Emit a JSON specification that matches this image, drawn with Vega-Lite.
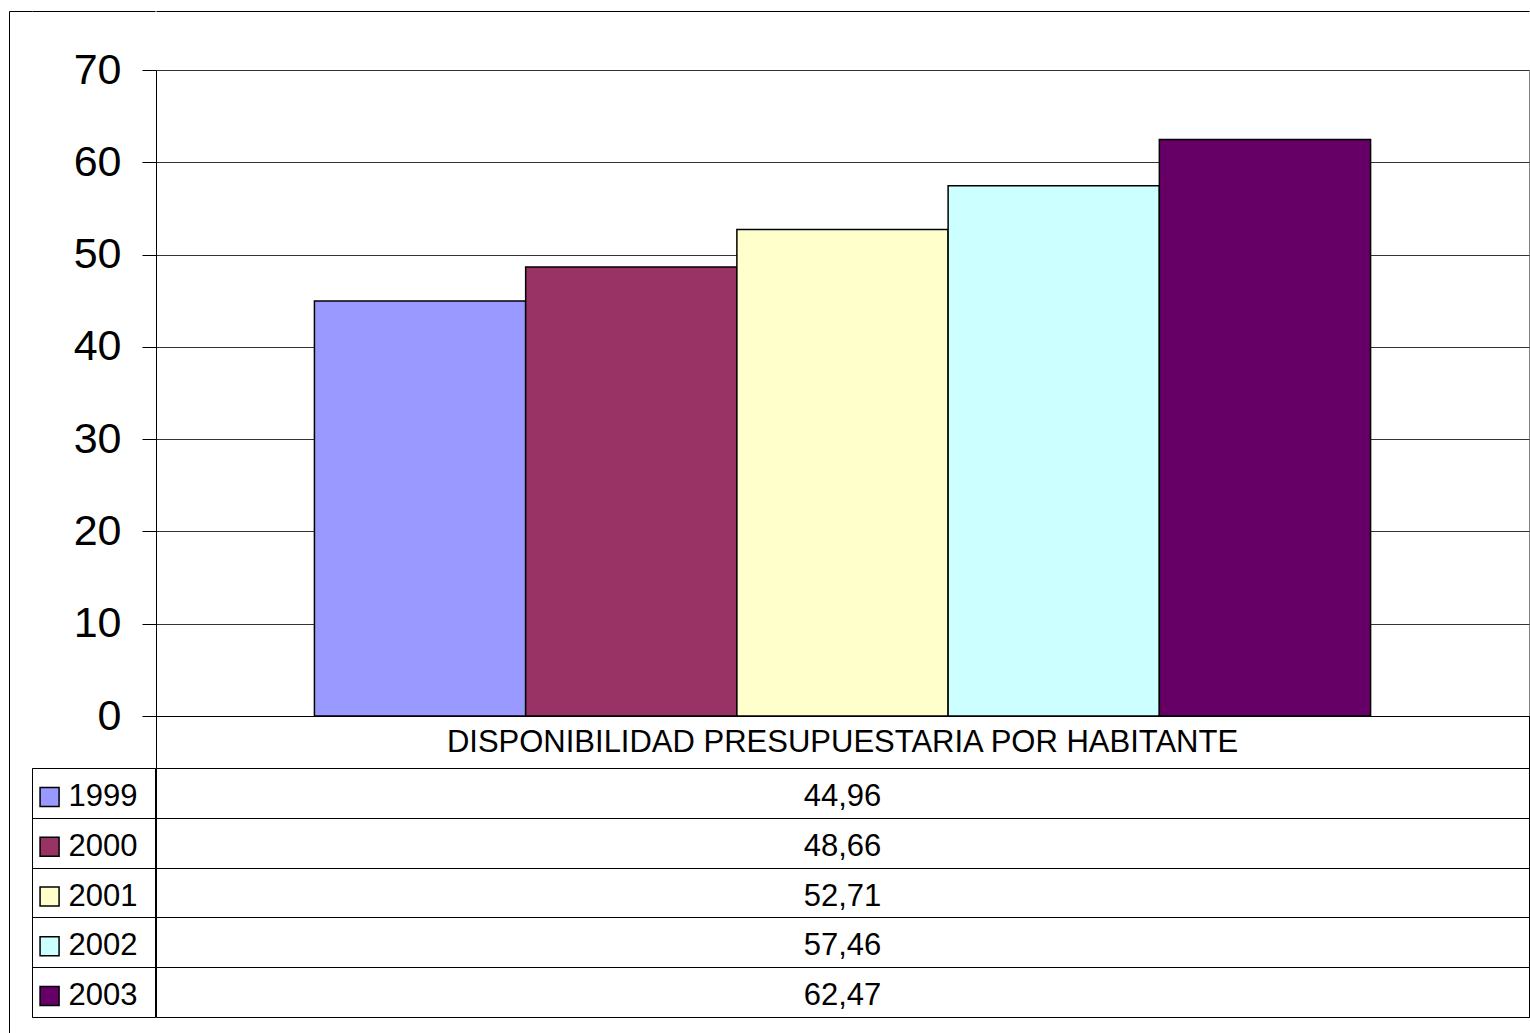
{
  "$schema": "https://vega.github.io/schema/vega-lite/v6.json",
  "padding": {"left": 9, "top": 10, "right": 0, "bottom": 0},
  "background": "white",
  "datasets": {
    "main": [
      {"category": "DISPONIBILIDAD PRESUPUESTARIA POR HABITANTE", "year": "1999", "value": 44.96},
      {"category": "DISPONIBILIDAD PRESUPUESTARIA POR HABITANTE", "year": "2000", "value": 48.66},
      {"category": "DISPONIBILIDAD PRESUPUESTARIA POR HABITANTE", "year": "2001", "value": 52.71},
      {"category": "DISPONIBILIDAD PRESUPUESTARIA POR HABITANTE", "year": "2002", "value": 57.46},
      {"category": "DISPONIBILIDAD PRESUPUESTARIA POR HABITANTE", "year": "2003", "value": 62.47}
    ]
  },
  "config": {
    "font": "Liberation Sans",
    "locale": {"number": {"decimal": ",", "thousands": ".", "grouping": [3], "currency": ["", " €"]}},
    "view": {"stroke": "#000", "strokeWidth": 1},
    "axis": {"labelColor": "#000", "titleColor": "#000"}
  },
  "spacing": -1,
  "hconcat": [
    {
      "width": 23,
      "height": 1022,
      "view": {"stroke": null},
      "data": {"values": [{"k": "a"}]},
      "mark": {"type": "text"},
      "encoding": {
        "x": {"field": "k", "type": "nominal", "scale": {"type": "band"}, "axis": {"orient": "top", "offset": 59, "labels": false, "ticks": false, "domain": true, "domainColor": "#000", "domainWidth": 1, "title": null}},
        "y": {"field": "k", "type": "nominal", "scale": {"type": "band"}, "axis": {"orient": "left", "position": -59, "labels": false, "ticks": false, "domain": true, "domainColor": "#000", "domainWidth": 1, "title": null}},
        "text": {"value": ""}
      }
    },
    {
      "spacing": -127,
      "hconcat": [
        {
          "spacing": 0,
          "bounds": "flush",
          "vconcat": [
            {
              "width": 123,
              "height": 698,
              "view": {"stroke": null},
              "data": {"values": [{"k": "a"}]},
              "mark": {"type": "text"},
              "encoding": {
                "x": {"field": "k", "type": "nominal", "scale": {"type": "band"}, "axis": {"orient": "top", "offset": 59, "labels": false, "ticks": false, "domain": true, "domainColor": "#000", "domainWidth": 1, "title": null}},
                "text": {"value": ""}
              }
            },
            {
              "width": 123,
              "height": 249,
              "view": {"stroke": "#000"},
              "data": {"name": "main"},
              "encoding": {
                "y": {
                  "field": "year", "type": "nominal",
                  "scale": {"type": "band", "paddingInner": 0, "paddingOuter": 0},
                  "axis": {"grid": true, "tickBand": "extent", "labels": false, "ticks": false, "domain": false, "title": null, "gridColor": "#000", "gridWidth": 1}
                }
              },
              "layer": [
                {
                  "mark": {"type": "point", "shape": "square", "filled": true, "size": 361, "stroke": "#000", "strokeWidth": 1.5, "opacity": 1, "yOffset": 4},
                  "encoding": {
                    "x": {"datum": "swatch", "type": "nominal", "scale": {"type": "point", "domain": ["swatch", "label"], "padding": 0.2}, "axis": null},
                    "color": {"field": "year", "type": "nominal", "scale": {"domain": ["1999", "2000", "2001", "2002", "2003"], "range": ["#9999FF", "#993366", "#FFFFCC", "#CCFFFF", "#660066"]}, "legend": null}
                  }
                },
                {
                  "mark": {"type": "text", "align": "right", "baseline": "middle", "fontSize": 31, "color": "#000", "dy": 4},
                  "encoding": {
                    "x": {"datum": "label", "type": "nominal", "scale": {"type": "point", "domain": ["swatch", "label"], "padding": 0.2}, "axis": null},
                    "text": {"field": "year"}
                  }
                }
              ]
            }
          ]
        },
        {
          "spacing": 0,
          "bounds": "flush",
          "vconcat": [
            {
              "width": 1373,
              "height": 646,
              "view": {"stroke": "#808080"},
              "data": {"name": "main"},
              "mark": {"type": "bar", "stroke": "#000", "strokeWidth": 1.5},
              "encoding": {
                "x": {"field": "category", "type": "nominal", "scale": {"type": "band", "paddingInner": 0, "paddingOuter": 0.15}, "axis": {"orient": "top", "offset": 59, "labels": false, "ticks": false, "domain": true, "domainColor": "#000", "domainWidth": 1, "title": null}},
                "xOffset": {"field": "year", "type": "nominal", "scale": {"paddingInner": 0, "paddingOuter": 0}},
                "y": {
                  "field": "value", "type": "quantitative",
                  "scale": {"domain": [0, 70], "nice": false, "zero": true},
                  "axis": {"values": [0, 10, 20, 30, 40, 50, 60, 70], "grid": true, "gridColor": "#333", "gridWidth": 1, "domainColor": "#000", "tickColor": "#000", "tickSize": 14, "labelFontSize": 43, "labelPadding": 21, "minExtent": 123, "title": null}
                },
                "color": {"field": "year", "type": "nominal", "scale": {"domain": ["1999", "2000", "2001", "2002", "2003"], "range": ["#9999FF", "#993366", "#FFFFCC", "#CCFFFF", "#660066"]}, "legend": null}
              }
            },
            {
              "width": 1373,
              "height": 52,
              "view": {"stroke": "#000"},
              "data": {"name": "main"},
              "transform": [{"aggregate": [], "groupby": ["category"]}],
              "mark": {"type": "text", "fontSize": 31, "baseline": "middle", "color": "#000", "dy": 1},
              "encoding": {
                "x": {"field": "category", "type": "nominal", "scale": {"type": "band", "paddingInner": 0, "paddingOuter": 0}, "axis": null},
                "text": {"field": "category"}
              }
            },
            {
              "width": 1373,
              "height": 249,
              "view": {"stroke": "#000"},
              "data": {"name": "main"},
              "mark": {"type": "text", "fontSize": 31, "baseline": "middle", "color": "#000", "dy": 4},
              "encoding": {
                "y": {
                  "field": "year", "type": "nominal",
                  "scale": {"type": "band", "paddingInner": 0, "paddingOuter": 0},
                  "axis": {"grid": true, "tickBand": "extent", "labels": false, "ticks": false, "domain": false, "title": null, "gridColor": "#000", "gridWidth": 1}
                },
                "text": {"field": "value", "type": "quantitative", "format": ".2f"}
              }
            }
          ]
        }
      ]
    }
  ]
}
